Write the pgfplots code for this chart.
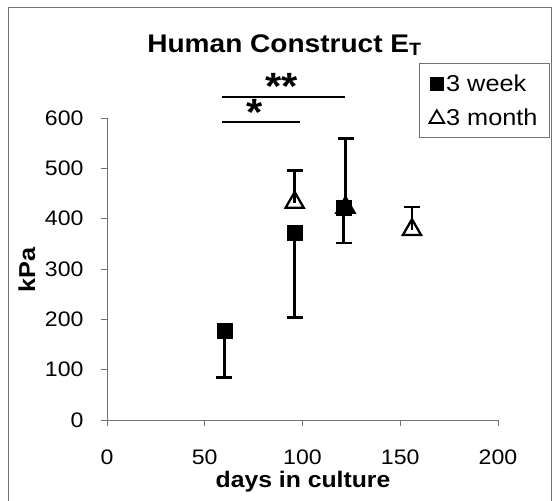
\documentclass[border=0pt]{standalone}
\usepackage{fontspec}
\setmainfont[FakeStretch=1.1]{Liberation Sans}
\usepackage{pgfplots}
\pgfplotsset{compat=1.18}
\definecolor{axgray}{gray}{0.45}
\begin{document}
\begin{tikzpicture}
\begin{axis}[
  anchor=origin, at={(0pt,0pt)},
  scale only axis, width=391pt, height=302pt,
  xmin=0, xmax=200, ymin=0, ymax=600,
  axis lines=left,
  axis line style={-, draw=axgray, line width=0.9pt},
  xtick={0,50,100,150,200}, ytick={0,100,200,300,400,500,600},
  tick align=outside, major tick length=6pt,
  tick style={draw=axgray, line width=0.9pt},
  tick label style={font=\fontsize{21}{25}\selectfont},
  /pgf/number format/assume math mode=true,
  yticklabel style={xshift=-14pt},
  xticklabel style={yshift=-20.5pt},
  clip=false,
  legend style={at={(312pt,357pt)}, anchor=north west, draw=axgray, line width=0.9pt,
    font=\fontsize{23}{27}\selectfont, row sep=12pt, inner xsep=10pt, inner ysep=9pt,
    cells={anchor=west},
    /tikz/every even column/.append style={column sep=5pt}},
  legend cell align=left,
]
\addplot[only marks, mark=square*, mark size=7.5pt, mark options={fill=black, draw=black, line width=0.5pt},
  legend image code/.code={\draw[mark size=6.3pt] plot coordinates {(0pt,0pt)};},
  error bars/.cd, y dir=minus, y explicit,
  error bar style={line width=2.6pt, black},
  error mark options={line width=2.6pt, mark size=8pt, rotate=90}]
  coordinates {
  (60,177) -= (0,92)
  (96,372) -= (0,168)
  (121,421) -= (0,69)
};
\addlegendentry{3 week}
\addplot[only marks, mark=triangle, mark size=10.5pt, mark options={fill=white, draw=black, line width=2.3pt},
  legend image code/.code={\draw[mark size=8.5pt, mark options={fill=white, draw=black, line width=1.8pt}] plot coordinates {(0pt,-1pt)};},
  error bars/.cd, y dir=plus, y explicit,
  error bar style={line width=2.6pt, black},
  error mark options={line width=2.6pt, mark size=8pt, rotate=90}]
  coordinates {
  (96,432) += (0,64)
  (122,422) += (0,137)
  (156,378) += (0,45)
};
\addlegendentry{3 month}
% significance bars
\addplot[black, line width=2pt, forget plot] coordinates {(58.8,642) (121.7,642)};
\addplot[black, line width=2pt, forget plot] coordinates {(58.8,592) (98.7,592)};
\node[font=\bfseries\fontsize{38}{38}\selectfont, inner sep=0pt] at (axis cs:89.5,662) {**};
\node[font=\bfseries\fontsize{38}{38}\selectfont, inner sep=0pt] at (axis cs:75.7,612) {*};
\end{axis}
\node[font=\bfseries\fontsize{25.5}{30}\selectfont] at (177.5pt,375pt) {Human Construct E\textsubscript{T}};
\node[font=\bfseries\fontsize{22.5}{26}\selectfont, anchor=base] at (196pt,-67pt) {days in culture};
\node[font=\bfseries\fontsize{23}{26}\selectfont, rotate=90] at (-80pt,150pt) {kPa};
\draw[axgray, line width=0.9pt] (444pt,-90pt) -- (-99pt,-90pt) -- (-99pt,413pt) -- (444pt,413pt) -- cycle;
\pgfresetboundingbox
\useasboundingbox (-107pt,-81pt) rectangle (445pt,420pt);
\end{tikzpicture}
\end{document}
